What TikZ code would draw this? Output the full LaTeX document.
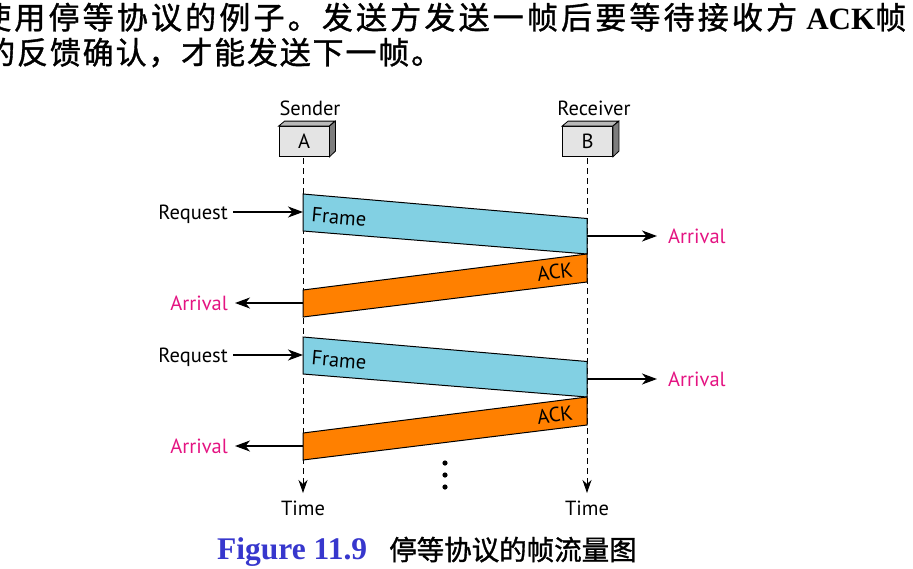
\documentclass[tikz,border=0pt]{standalone}
\usepackage{fontspec}
\setmainfont{PT Sans}
\newfontfamily\cjk{Noto Sans CJK SC}
\newfontfamily\cjkb{Noto Sans CJK SC}[FakeBold=1.2]
\newfontfamily\tms{Liberation Serif}
\usetikzlibrary{arrows.meta}
\definecolor{framecol}{RGB}{130,208,227}
\definecolor{ackcol}{RGB}{255,128,0}
\definecolor{arrcol}{RGB}{228,20,130}
\definecolor{capblue}{RGB}{55,55,205}
\definecolor{boxfront}{RGB}{228,228,228}
\definecolor{boxtop}{RGB}{185,185,185}
\definecolor{boxside}{RGB}{125,125,125}
\newcommand{\gp}{\hfill}
\begin{document}
\begin{tikzpicture}[x=1pt,y=-1pt,
  lbl/.style={font=\fontsize{20.5}{23}\selectfont, inner sep=0pt},
  arrlbl/.style={lbl, text=arrcol},
  station/.style={draw, line width=0.8pt, fill=boxfront, minimum width=50pt, minimum height=30pt, inner sep=0pt, font=\fontsize{20.5}{23}\selectfont},
  timeline/.style={line width=0.9pt, dash pattern=on 6pt off 4pt, -{Stealth[length=13pt,width=9pt,inset=4pt]}},
  sig/.style={line width=1.4pt, -{Stealth[length=15pt,width=11pt,inset=4.5pt]}},
  pkt/.style={line width=1pt, line join=miter},
  cjktext/.style={font=\cjkb\fontsize{31}{33}\selectfont, inner sep=0pt, anchor=base west}
]
\useasboundingbox (0,0) rectangle (913,568);

% top text
\node[cjktext] (t1) at (-20,29) {\makebox[926pt][l]{使\gp 用\gp 停\gp 等\gp 协\gp 议\gp 的\gp 例\gp 子\gp 。\gp 发\gp 送\gp 方\gp 发\gp 送\gp 一\gp 帧\gp 后\gp 要\gp 等\gp 待\gp 接\gp 收\gp 方\gp\hspace{6pt}{\tms\bfseries ACK}帧}};
\node[cjktext] (t2) at (-16,64) {\makebox[458pt][l]{的\gp 反\gp 馈\gp 确\gp 认\gp ，\gp 才\gp 能\gp 发\gp 送\gp 下\gp 一\gp 帧\gp 。}};

% stations
\node[station] (A) at (304,141.5) {A};
\node[station] (B) at (587.5,141.5) {B};
\foreach \s in {A,B}{
  \draw[line width=0.8pt, fill=boxtop] (\s.north west) -- ++(6,-5) -- ++(50,0) -- (\s.north east) -- cycle;
  \draw[line width=0.8pt, fill=boxside] (\s.north east) -- ++(6,-5) -- ++(0,30) -- (\s.south east) -- cycle;
}
\node[lbl, anchor=base] (sl) at (310,115) {Sender};
\node[lbl, anchor=base] (rl) at (594,115) {Receiver};

% time nodes
\node[lbl, anchor=base] (tA) at (303,515) {Time};
\node[lbl, anchor=base] (tB) at (587,515) {Time};
\coordinate (sA) at (303,158);
\coordinate (sB) at (587,158);
\coordinate (eA) at (303,493);
\coordinate (eB) at (587,493);
\draw[timeline] (sA) -- (eA);
\draw[timeline] (sB) -- (eB);

% two exchanges
\foreach \d/\n in {0/1,143/2}{
  \draw[pkt, fill=framecol] (303,194+\d) -- (587,218.5+\d) -- (587,254+\d) -- (303,231+\d) -- cycle;
  \draw[pkt, fill=ackcol] (587,254+\d) -- (587,282+\d) -- (303,317+\d) -- (303,290+\d) -- cycle;
  \node[lbl, rotate=-5] (fr\n) at (339,217+\d) {Frame};
  \node[lbl, rotate=7] (ack\n) at (555,272+\d) {ACK};
  \node[lbl, anchor=base east] (req\n) at (228,219+\d) {Request};
  \node[arrlbl, anchor=base west] (arrR\n) at (668,243+\d) {Arrival};
  \node[arrlbl, anchor=base east] (arrL\n) at (228,310+\d) {Arrival};
  \coordinate (fin\n) at (303,212+\d);
  \coordinate (rin\n) at (587,236+\d);
  \coordinate (ain\n) at (303,303+\d);
  \coordinate (reqe\n) at (233,212+\d);
  \coordinate (arrRe\n) at (657,236+\d);
  \coordinate (arrLe\n) at (235,303+\d);
  \draw[sig] (reqe\n) -- (fin\n);
  \draw[sig] (rin\n) -- (arrRe\n);
  \draw[sig] (ain\n) -- (arrLe\n);
}

% dots
\foreach \y/\n in {463/1,475/2,487/3}{
  \fill (445,\y) circle (2.6pt) coordinate (dot\n);
}

% caption
\node[font=\tms\bfseries\fontsize{31.5}{34}\selectfont, text=capblue, inner sep=0pt, anchor=base west] (cap) at (217,559) {Figure 11.9};
\node[font=\cjkb\fontsize{27.5}{30}\selectfont, inner sep=0pt, anchor=base west] (capcn) at (389,560) {停等协议的帧流量图};
\end{tikzpicture}
\end{document}
